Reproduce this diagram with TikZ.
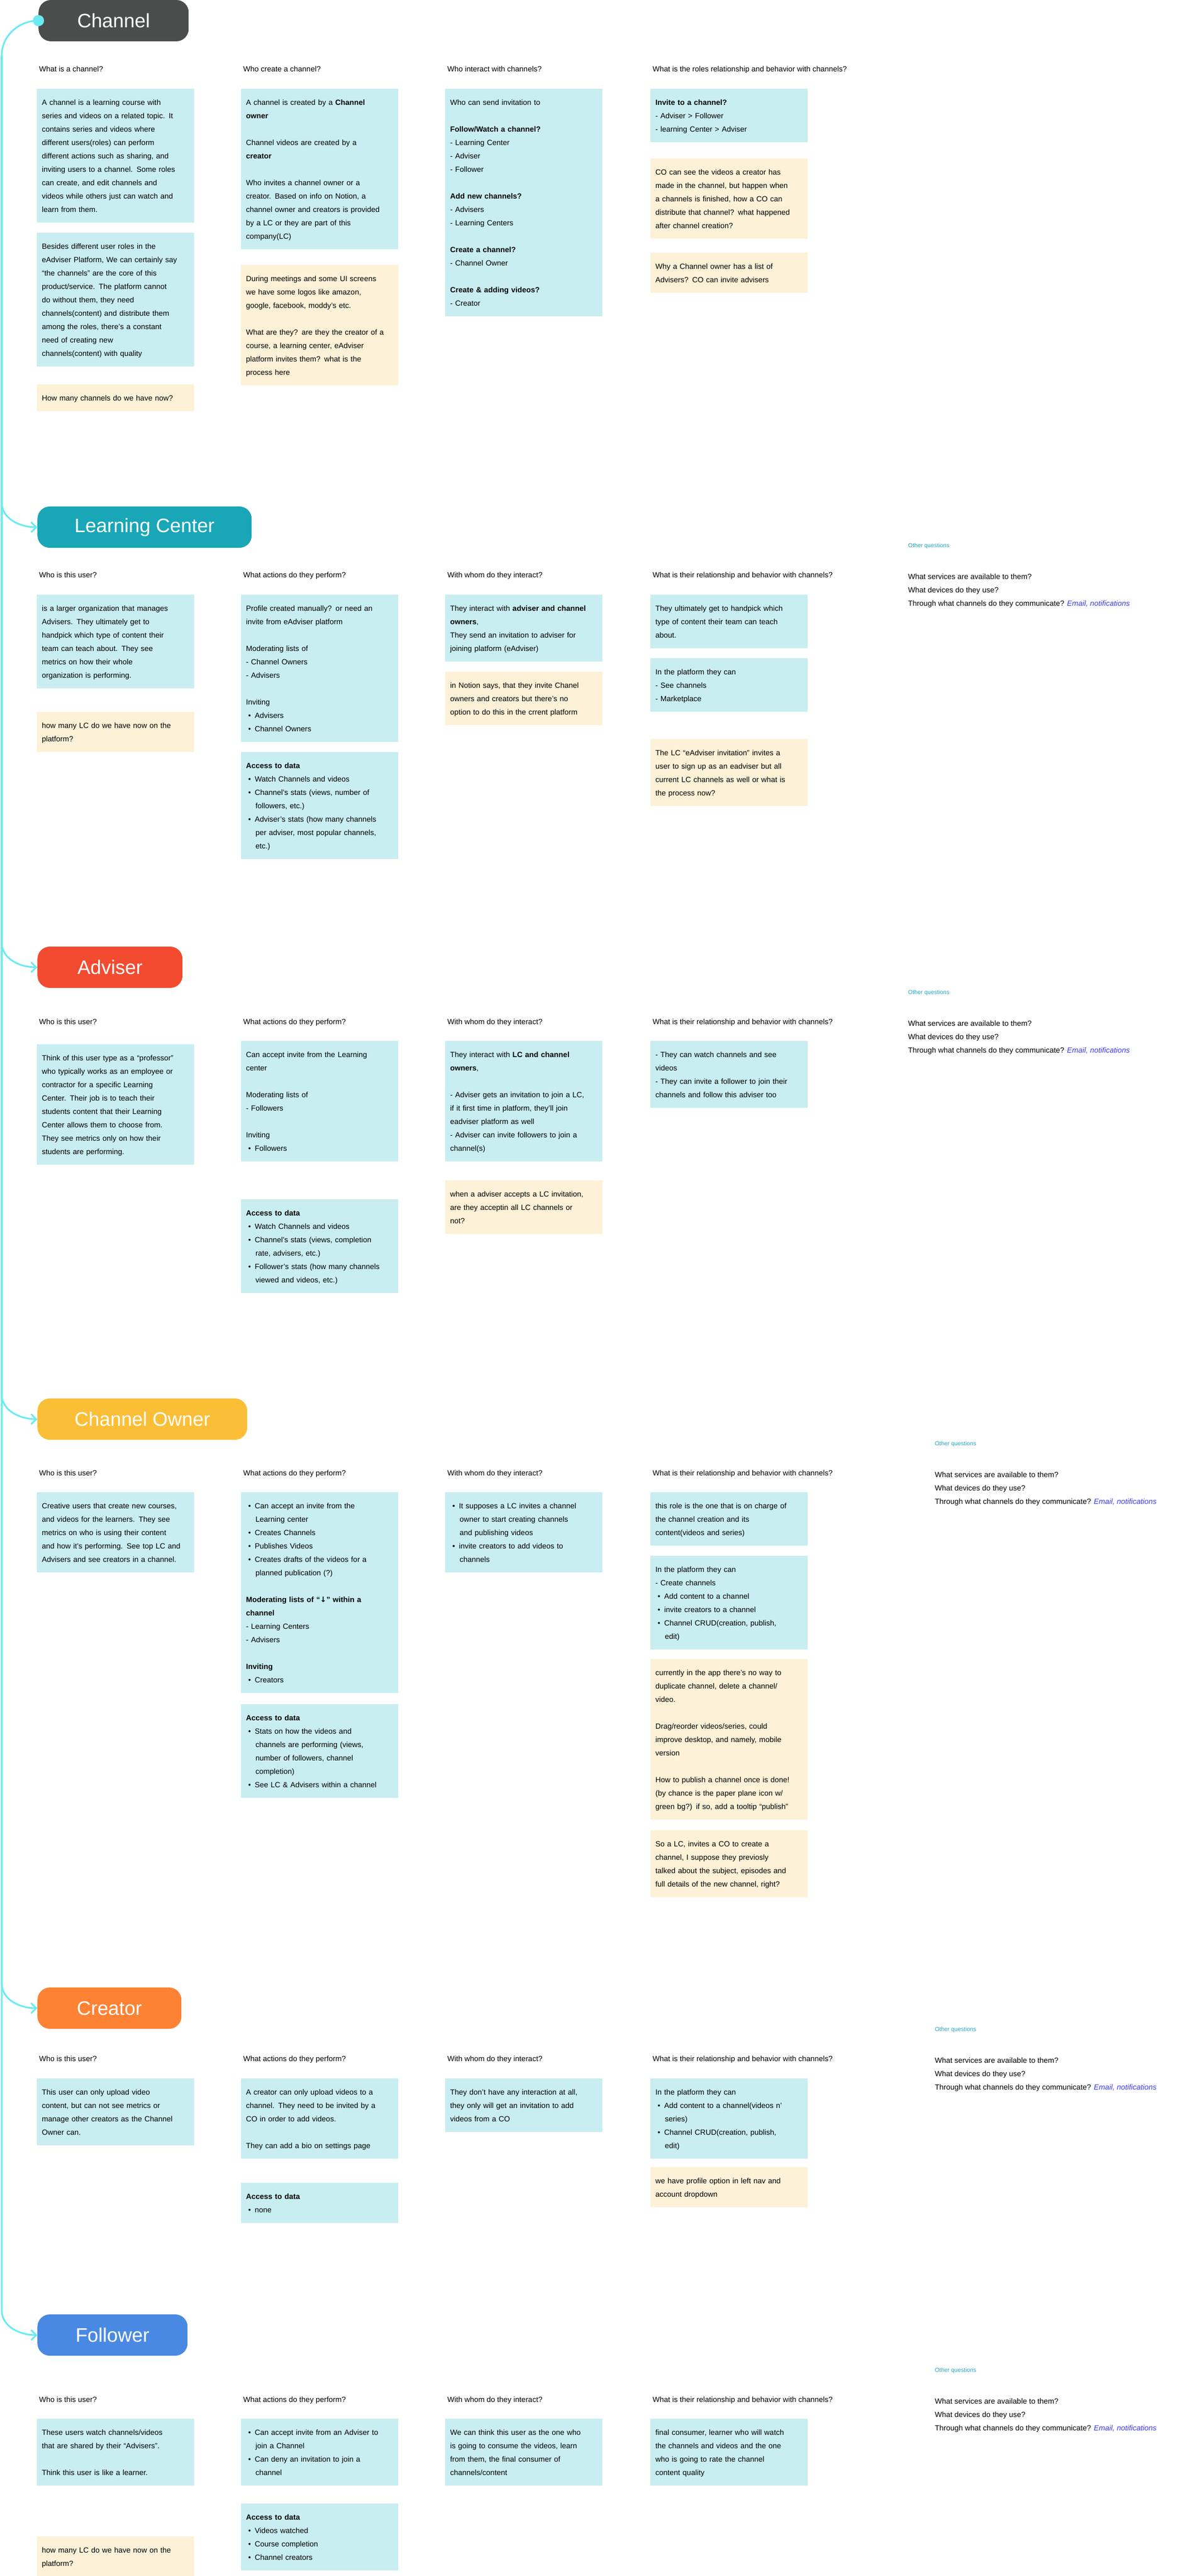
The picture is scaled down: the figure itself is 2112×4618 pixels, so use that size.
\documentclass[tikz,border=0pt]{standalone}
\usepackage{fontspec}
\setmainfont{Liberation Sans}
\newfontfamily\symf{DejaVu Sans}
\usetikzlibrary{arrows.meta}
\definecolor{boxblue}{HTML}{C9EEF2}
\definecolor{boxyel}{HTML}{FDF1D7}
\definecolor{cyanline}{HTML}{6BEAF2}
\definecolor{oqcol}{HTML}{27A3C1}
\definecolor{linkblue}{HTML}{3B3BF5}
\definecolor{pchan}{HTML}{4B4D4D}
\definecolor{plc}{HTML}{19A6B6}
\definecolor{padv}{HTML}{F24B2F}
\definecolor{pco}{HTML}{FBBE37}
\definecolor{pcre}{HTML}{FD8234}
\definecolor{pfol}{HTML}{4A89E3}
\newcommand{\bodyfont}{\fontsize{13.5}{24}\selectfont}
\newcommand{\pillfont}{\fontsize{35}{40}\selectfont}
\newcommand{\oqfont}{\fontsize{10.5}{14}\selectfont}
\newcommand{\bt}[1]{\strut#1\strut}
\newcommand{\bl}{\hspace*{4pt}\textbullet\hspace{7pt}}
\newcommand{\bi}{\hspace*{17pt}}
\newcommand{\lnk}{{\color{linkblue}\itshape Email, notifications}}
\tikzset{
 bx/.style={fill=boxblue, anchor=north west, text width=264pt, inner xsep=9pt, inner ysep=12pt, align=left, font=\bodyfont},
 nt/.style={bx, fill=boxyel},
 hdr/.style={anchor=mid west, inner sep=0pt, font=\bodyfont},
 svc/.style={anchor=north west, inner sep=0pt, align=left, font=\bodyfont},
 pill/.style={rounded corners=22pt, minimum height=74pt, text=white, font=\pillfont, anchor=west},
 conn/.style={draw=cyanline, line width=3pt},
 oq/.style={anchor=mid west, inner sep=0pt, text=oqcol, font=\oqfont}
}
\begin{document}
\begin{tikzpicture}[x=1pt,y=-1pt]
\useasboundingbox[fill=white] (0,0) rectangle (2112,4618);
% ---------- pills ----------
\node[pill, fill=pchan, minimum width=269pt] (chan) at (69,37) {Channel};
\node[pill, fill=plc, minimum width=384pt] (lc) at (67,945) {Learning Center};
\node[pill, fill=padv, minimum width=260pt] (adv) at (67,1734) {Adviser};
\node[pill, fill=pco, minimum width=376pt] (co) at (67,2544) {Channel Owner};
\node[pill, fill=pcre, minimum width=258pt] (cre) at (67,3600) {Creator};
\node[pill, fill=pfol, minimum width=269pt] (fol) at (67,4186) {Follower};
% ---------- connectors ----------
\coordinate (ttop) at (3,100);
\coordinate (tlc) at (3,900);
\coordinate (tadv) at (3,1689);
\coordinate (tco) at (3,2499);
\coordinate (tcre) at (3,3555);
\coordinate (tfol) at (3,4141);
\draw[conn] (chan.west) to[out=180,in=90] (ttop);
\foreach \t/\p in {tlc/lc,tadv/adv,tco/co,tcre/cre,tfol/fol}{
 \draw[conn, -{Straight Barb[length=9pt,width=18pt,line width=3pt]}] (ttop) -- (\t) to[out=-90,in=180] (\p.west);
}
\fill[cyanline] (chan.west) circle (10pt);
% ================= CHANNEL =================
\node[hdr] (h11) at (70,126) {What is a channel?};
\node[hdr] (h12) at (436,126) {Who create a channel?};
\node[hdr] (h13) at (802,126) {Who interact with channels?};
\node[hdr] (h14) at (1170,126) {What is the roles relationship and behavior with channels?};
\node[bx] (c1a) at (66,159) {\bt{A channel is a learning course with\\ series and videos on a related topic. It\\ contains series and videos where\\ different users(roles) can perform\\ different actions such as sharing, and\\ inviting users to a channel. Some roles\\ can create, and edit channels and\\ videos while others just can watch and\\ learn from them.}};
\node[bx] (c1b) at (66,417) {\bt{Besides different user roles in the\\ eAdviser Platform, We can certainly say\\ “the channels” are the core of this\\ product/service. The platform cannot\\ do without them, they need\\ channels(content) and distribute them\\ among the roles, there’s a constant\\ need of creating new\\ channels(content) with quality}};
\node[nt] (c1c) at (66,689) {\bt{How many channels do we have now?}};
\node[bx] (c2a) at (432,159) {\bt{A channel is created by a \textbf{Channel}\\ \textbf{owner}\\[24pt] Channel videos are created by a\\ \textbf{creator}\\[24pt] Who invites a channel owner or a\\ creator. Based on info on Notion, a\\ channel owner and creators is provided\\ by a LC or they are part of this\\ company(LC)}};
\node[nt] (c2b) at (432,475) {\bt{During meetings and some UI screens\\ we have some logos like amazon,\\ google, facebook, moddy’s etc.\\[24pt] What are they? are they the creator of a\\ course, a learning center, eAdviser\\ platform invites them? what is the\\ process here}};
\node[bx] (c3a) at (798,159) {\bt{Who can send invitation to\\[24pt] \textbf{Follow/Watch a channel?}\\ - Learning Center\\ - Adviser\\ - Follower\\[24pt] \textbf{Add new channels?}\\ - Advisers\\ - Learning Centers\\[24pt] \textbf{Create a channel?}\\ - Channel Owner\\[24pt] \textbf{Create \& adding videos?}\\ - Creator}};
\node[bx] (c4a) at (1166,159) {\bt{\textbf{Invite to a channel?}\\ - Adviser > Follower\\ - learning Center > Adviser}};
\node[nt] (c4b) at (1166,284) {\bt{CO can see the videos a creator has\\ made in the channel, but happen when\\ a channels is finished, how a CO can\\ distribute that channel? what happened\\ after channel creation?}};
\node[nt] (c4c) at (1166,453) {\bt{Why a Channel owner has a list of\\ Advisers? CO can invite advisers}};
% ================= LEARNING CENTER =================
\node[oq] (lcoq) at (1628,979) {Other questions};
\node[hdr] (h21) at (70,1033) {Who is this user?};
\node[hdr] (h22) at (436,1033) {What actions do they perform?};
\node[hdr] (h23) at (802,1033) {With whom do they interact?};
\node[hdr] (h24) at (1170,1033) {What is their relationship and behavior with channels?};
\node[svc] (h25) at (1628,1021) {\bt{What services are available to them?\\ What devices do they use?\\ Through what channels do they communicate? \lnk}};
\node[bx] (l1a) at (66,1066) {\bt{is a larger organization that manages\\ Advisers. They ultimately get to\\ handpick which type of content their\\ team can teach about. They see\\ metrics on how their whole\\ organization is performing.}};
\node[nt] (l1b) at (66,1276) {\bt{how many LC do we have now on the\\ platform?}};
\node[bx] (l2a) at (432,1066) {\bt{Profile created manually? or need an\\ invite from eAdviser platform\\[24pt] Moderating lists of\\ - Channel Owners\\ - Advisers\\[24pt] Inviting\\ \bl Advisers\\ \bl Channel Owners}};
\node[bx] (l2b) at (432,1348) {\bt{\textbf{Access to data}\\ \bl Watch Channels and videos\\ \bl Channel’s stats (views, number of\\ \bi followers, etc.)\\ \bl Adviser’s stats (how many channels\\ \bi per adviser, most popular channels,\\ \bi etc.)}};
\node[bx] (l3a) at (798,1066) {\bt{They interact with \textbf{adviser and channel}\\ \textbf{owners},\\ They send an invitation to adviser for\\ joining platform (eAdviser)}};
\node[nt] (l3b) at (798,1204) {\bt{in Notion says, that they invite Chanel\\ owners and creators but there’s no\\ option to do this in the crrent platform}};
\node[bx] (l4a) at (1166,1066) {\bt{They ultimately get to handpick which\\ type of content their team can teach\\ about.}};
\node[bx] (l4b) at (1166,1180) {\bt{In the platform they can\\ - See channels\\ - Marketplace}};
\node[nt] (l4c) at (1166,1325) {\bt{The LC “eAdviser invitation” invites a\\ user to sign up as an eadviser but all\\ current LC channels as well or what is\\ the process now?}};
% ================= ADVISER =================
\node[oq] (advoq) at (1628,1780) {Other questions};
\node[hdr] (h31) at (70,1834) {Who is this user?};
\node[hdr] (h32) at (436,1834) {What actions do they perform?};
\node[hdr] (h33) at (802,1834) {With whom do they interact?};
\node[hdr] (h34) at (1170,1834) {What is their relationship and behavior with channels?};
\node[svc] (h35) at (1628,1822) {\bt{What services are available to them?\\ What devices do they use?\\ Through what channels do they communicate? \lnk}};
\node[bx] (a1a) at (66,1872) {\bt{Think of this user type as a “professor”\\ who typically works as an employee or\\ contractor for a specific Learning\\ Center. Their job is to teach their\\ students content that their Learning\\ Center allows them to choose from.\\ They see metrics only on how their\\ students are performing.}};
\node[bx] (a2a) at (432,1866) {\bt{Can accept invite from the Learning\\ center\\[24pt] Moderating lists of\\ - Followers\\[24pt] Inviting\\ \bl Followers}};
\node[bx] (a2b) at (432,2150) {\bt{\textbf{Access to data}\\ \bl Watch Channels and videos\\ \bl Channel’s stats (views, completion\\ \bi rate, advisers, etc.)\\ \bl Follower’s stats (how many channels\\ \bi viewed and videos, etc.)}};
\node[bx] (a3a) at (798,1866) {\bt{They interact with \textbf{LC and channel}\\ \textbf{owners},\\[24pt] - Adviser gets an invitation to join a LC,\\ if it first time in platform, they’ll join\\ eadviser platform as well\\ - Adviser can invite followers to join a\\ channel(s)}};
\node[nt] (a3b) at (798,2116) {\bt{when a adviser accepts a LC invitation,\\ are they acceptin all LC channels or\\ not?}};
\node[bx] (a4a) at (1166,1866) {\bt{- They can watch channels and see\\ videos\\ - They can invite a follower to join their\\ channels and follow this adviser too}};
% ================= CHANNEL OWNER =================
\node[oq] (cooq) at (1676,2589) {Other questions};
\node[hdr] (h41) at (70,2643) {Who is this user?};
\node[hdr] (h42) at (436,2643) {What actions do they perform?};
\node[hdr] (h43) at (802,2643) {With whom do they interact?};
\node[hdr] (h44) at (1170,2643) {What is their relationship and behavior with channels?};
\node[svc] (h45) at (1676,2631) {\bt{What services are available to them?\\ What devices do they use?\\ Through what channels do they communicate? \lnk}};
\node[bx] (o1a) at (66,2675) {\bt{Creative users that create new courses,\\ and videos for the learners. They see\\ metrics on who is using their content\\ and how it’s performing. See top LC and\\ Advisers and see creators in a channel.}};
\node[bx] (o2a) at (432,2675) {\bt{\bl Can accept an invite from the\\ \bi Learning center\\ \bl Creates Channels\\ \bl Publishes Videos\\ \bl Creates drafts of the videos for a\\ \bi planned publication (?)\\[24pt] \textbf{Moderating lists of “{\symf ↓}” within a}\\ \textbf{channel}\\ - Learning Centers\\ - Advisers\\[24pt] \textbf{Inviting}\\ \bl Creators}};
\node[bx] (o2b) at (432,3055) {\bt{\textbf{Access to data}\\ \bl Stats on how the videos and\\ \bi channels are performing (views,\\ \bi number of followers, channel\\ \bi completion)\\ \bl See LC \& Advisers within a channel}};
\node[bx] (o3a) at (798,2675) {\bt{\bl It supposes a LC invites a channel\\ \bi owner to start creating channels\\ \bi and publishing videos\\ \bl invite creators to add videos to\\ \bi channels}};
\node[bx] (o4a) at (1166,2675) {\bt{this role is the one that is on charge of\\ the channel creation and its\\ content(videos and series)}};
\node[bx] (o4b) at (1166,2789) {\bt{In the platform they can\\ - Create channels\\ \bl Add content to a channel\\ \bl invite creators to a channel\\ \bl Channel CRUD(creation, publish,\\ \bi edit)}};
\node[nt] (o4c) at (1166,2974) {\bt{currently in the app there’s no way to\\ duplicate channel, delete a channel/\\ video.\\[24pt] Drag/reorder videos/series, could\\ improve desktop, and namely, mobile\\ version\\[24pt] How to publish a channel once is done!\\ (by chance is the paper plane icon w/\\ green bg?) if so, add a tooltip “publish”}};
\node[nt] (o4d) at (1166,3281) {\bt{So a LC, invites a CO to create a\\ channel, I suppose they previosly\\ talked about the subject, episodes and\\ full details of the new channel, right?}};
% ================= CREATOR =================
\node[oq] (croq) at (1676,3639) {Other questions};
\node[hdr] (h51) at (70,3693) {Who is this user?};
\node[hdr] (h52) at (436,3693) {What actions do they perform?};
\node[hdr] (h53) at (802,3693) {With whom do they interact?};
\node[hdr] (h54) at (1170,3693) {What is their relationship and behavior with channels?};
\node[svc] (h55) at (1676,3681) {\bt{What services are available to them?\\ What devices do they use?\\ Through what channels do they communicate? \lnk}};
\node[bx] (r1a) at (66,3726) {\bt{This user can only upload video\\ content, but can not see metrics or\\ manage other creators as the Channel\\ Owner can.}};
\node[bx] (r2a) at (432,3726) {\bt{A creator can only upload videos to a\\ channel. They need to be invited by a\\ CO in order to add videos.\\[24pt] They can add a bio on settings page}};
\node[bx] (r2b) at (432,3913) {\bt{\textbf{Access to data}\\ \bl none}};
\node[bx] (r3a) at (798,3726) {\bt{They don’t have any interaction at all,\\ they only will get an invitation to add\\ videos from a CO}};
\node[bx] (r4a) at (1166,3726) {\bt{In the platform they can\\ \bl Add content to a channel(videos n’\\ \bi series)\\ \bl Channel CRUD(creation, publish,\\ \bi edit)}};
\node[nt] (r4b) at (1166,3885) {\bt{we have profile option in left nav and\\ account dropdown}};
% ================= FOLLOWER =================
\node[oq] (fooq) at (1676,4250) {Other questions};
\node[hdr] (h61) at (70,4304) {Who is this user?};
\node[hdr] (h62) at (436,4304) {What actions do they perform?};
\node[hdr] (h63) at (802,4304) {With whom do they interact?};
\node[hdr] (h64) at (1170,4304) {What is their relationship and behavior with channels?};
\node[svc] (h65) at (1676,4292) {\bt{What services are available to them?\\ What devices do they use?\\ Through what channels do they communicate? \lnk}};
\node[bx] (f1a) at (66,4336) {\bt{These users watch channels/videos\\ that are shared by their “Advisers”.\\[24pt] Think this user is like a learner.}};
\node[nt] (f1b) at (66,4547) {\bt{how many LC do we have now on the\\ platform?}};
\node[bx] (f2a) at (432,4336) {\bt{\bl Can accept invite from an Adviser to\\ \bi join a Channel\\ \bl Can deny an invitation to join a\\ \bi channel}};
\node[bx] (f2b) at (432,4488) {\bt{\textbf{Access to data}\\ \bl Videos watched\\ \bl Course completion\\ \bl Channel creators}};
\node[bx] (f3a) at (798,4336) {\bt{We can think this user as the one who\\ is going to consume the videos, learn\\ from them, the final consumer of\\ channels/content}};
\node[bx] (f4a) at (1166,4336) {\bt{final consumer, learner who will watch\\ the channels and videos and the one\\ who is going to rate the channel\\ content quality}};
\end{tikzpicture}
\end{document}
